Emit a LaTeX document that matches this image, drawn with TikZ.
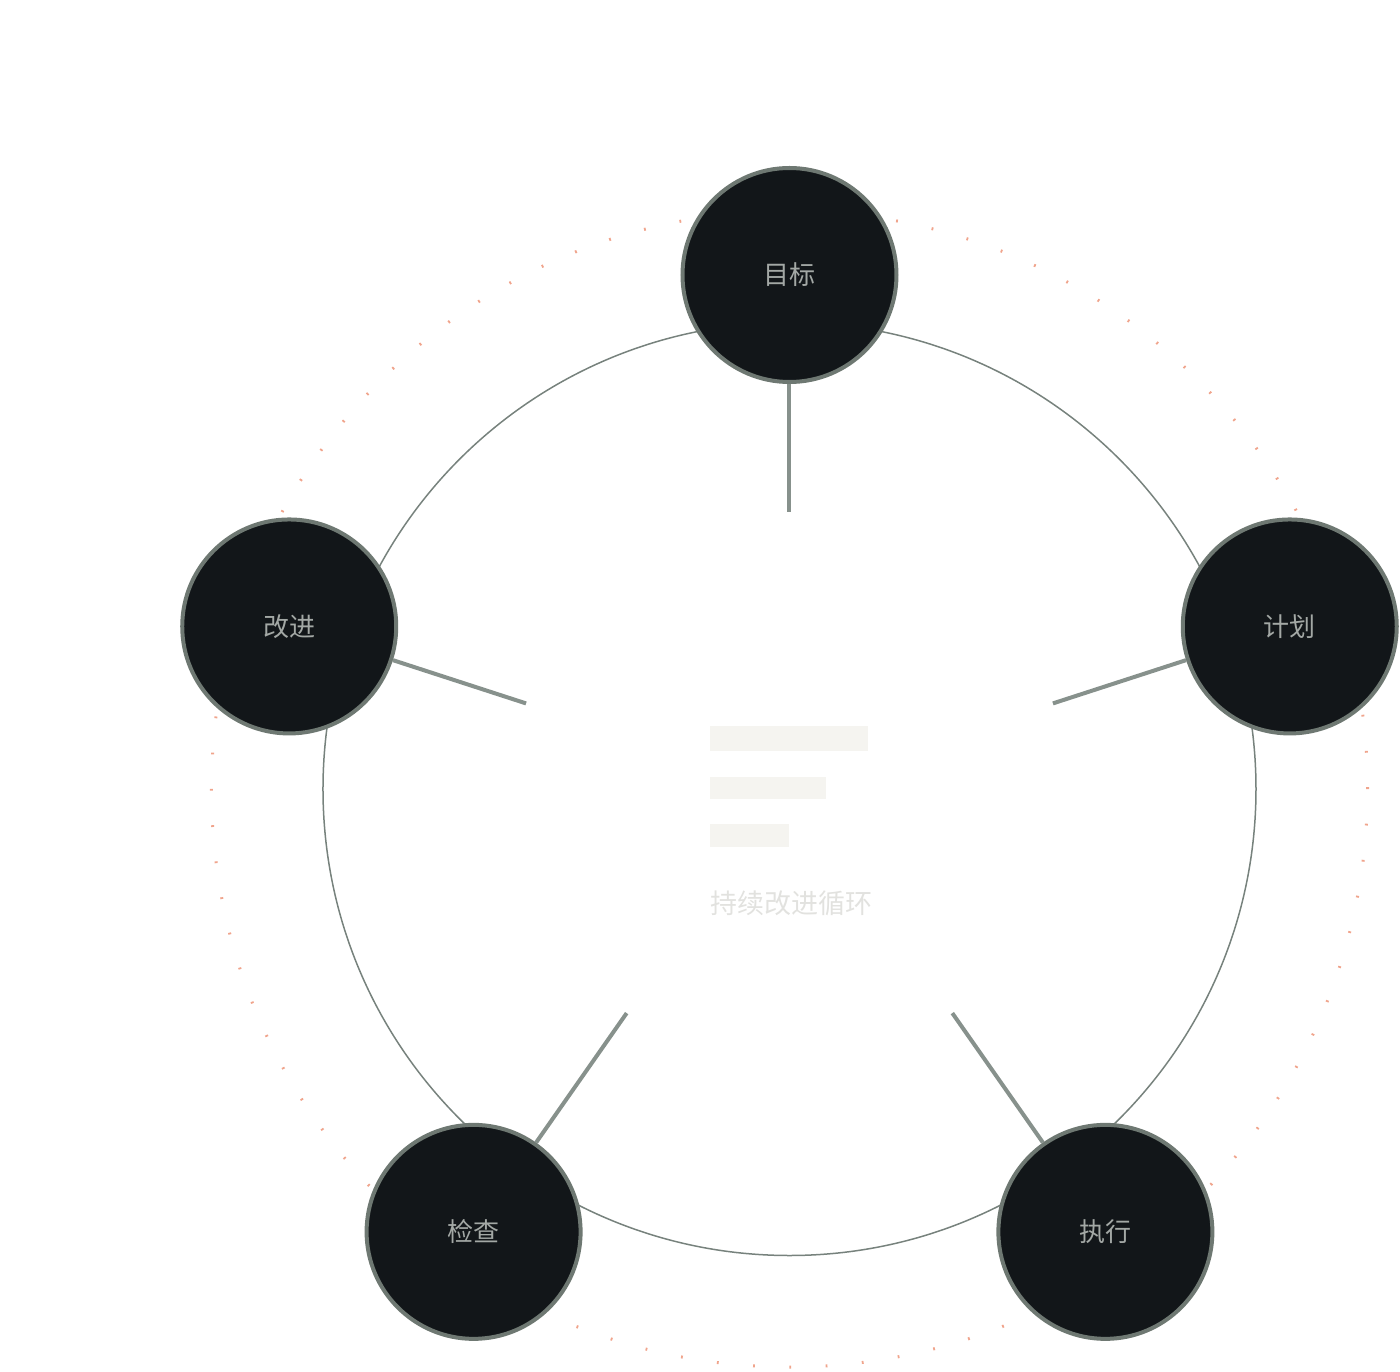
\documentclass[tikz,border=0pt]{standalone}
\usepackage{fontspec}
\newfontfamily\cjk{Noto Sans CJK SC}
\definecolor{nodefill}{HTML}{121619}
\definecolor{nodeborder}{HTML}{6E7872}
\definecolor{ringgray}{HTML}{77827D}
\definecolor{spokegray}{HTML}{87918C}
\definecolor{halo}{HTML}{F0A48C}
\definecolor{barfill}{HTML}{F5F4F0}
\definecolor{labelgray}{HTML}{A3A8A5}
\definecolor{subgray}{HTML}{E2E2DF}
\tikzset{
  stage node/.style={
    circle,
    draw=nodeborder,
    line width=4pt,
    fill=nodefill,
    minimum size=214pt,
    text=labelgray,
    font=\cjk\fontsize{26pt}{26pt}\selectfont,
  },
  spoke/.style={draw=spokegray, line width=4pt},
  ring/.style={draw=ringgray, line width=1.5pt},
  halo ring/.style={draw=halo, line width=3pt, dash pattern=on 1.8pt off 34.52pt},
}

\begin{document}
\begin{tikzpicture}[x=1pt, y=1pt]
      \useasboundingbox (-789.5,-582) rectangle (610.5,789);

      \draw[halo ring] (0,0) circle (578);
      \draw[ring] (0,0) circle (466.5);

      \node[stage node] (n1) at (090.0:514) {目标};
      \node[stage node] (n2) at (018.0:526) {计划};
      \node[stage node] (n3) at (305.5:544) {执行};
      \node[stage node] (n4) at (234.5:544) {检查};
      \node[stage node] (n5) at (162.0:526) {改进};

      \coordinate (s1) at (090:277);
      \coordinate (s2) at (018:277);
      \coordinate (s3) at (306:277);
      \coordinate (s4) at (234:277);
      \coordinate (s5) at (162:277);

      \draw[spoke] (s1) -- (n1);
      \draw[spoke] (s2) -- (n2);
      \draw[spoke] (s3) -- (n3);
      \draw[spoke] (s4) -- (n4);
      \draw[spoke] (s5) -- (n5);

      \fill[barfill] (-79,38) rectangle (78.5,63);
      \fill[barfill] (-79,-10) rectangle (36.5,12.5);
      \fill[barfill] (-79,-57.5) rectangle (0,-35);
      \node[anchor=west, inner sep=0pt, text=subgray, font=\cjk\fontsize{27pt}{27pt}\selectfont]
        (sub) at (-79,-114) {持续改进循环};
    \end{tikzpicture}
\end{document}
